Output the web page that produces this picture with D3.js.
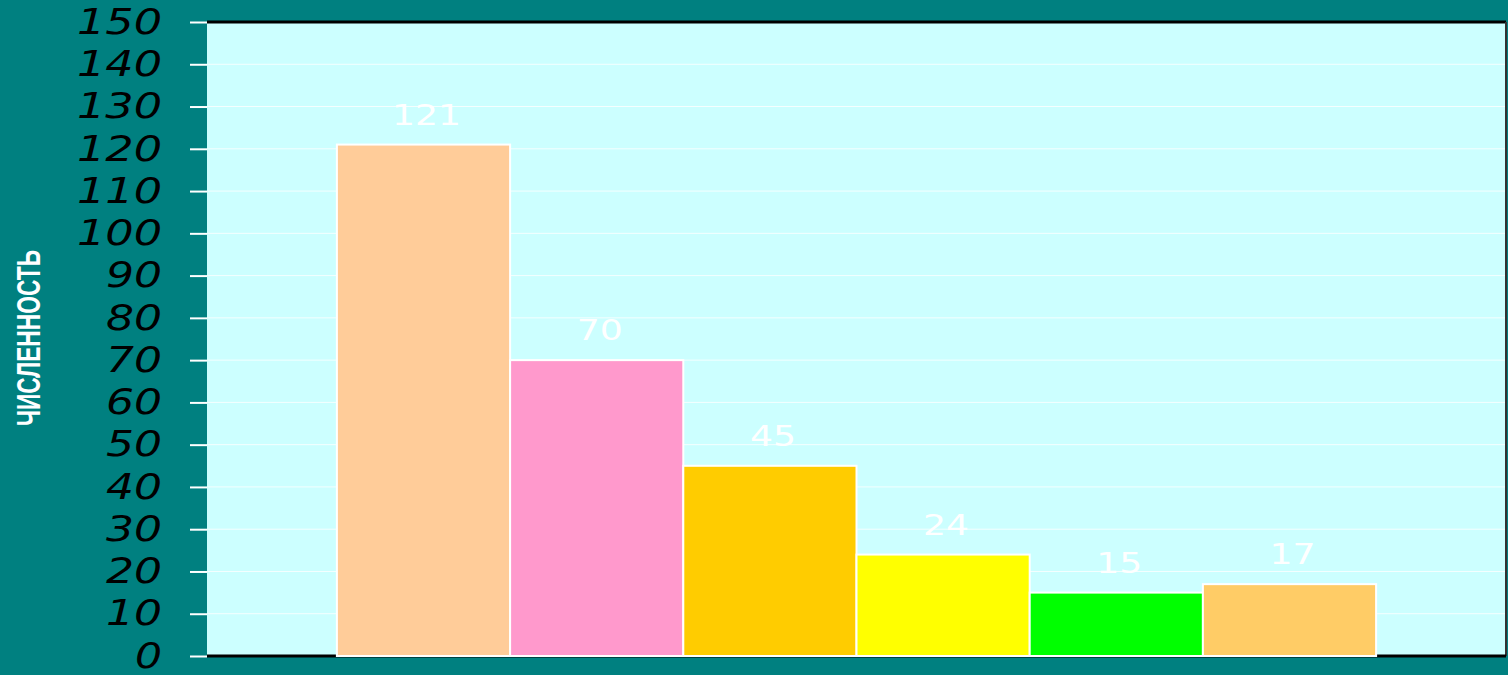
<!DOCTYPE html>
<html lang="ru">
<head>
  <meta charset="UTF-8" />
  <title>Численность</title>
  <style>
    body { margin: 0; background: #008080; }
    svg { display: block; }
    .grid line { stroke: #ffffff; stroke-width: 1px; opacity: 0.8; }
    .yaxis path { display: none; }
    .yaxis line { stroke: #ffffff; stroke-width: 2px; }
    .yaxis text {
      fill: #000;
      font-family: "DejaVu Sans", sans-serif;
      font-style: oblique;
      font-size: 35px;
    }
    .bar { stroke: #ffffff; stroke-width: 2px; }
    .bar-label {
      fill: #ffffff;
      font-family: "DejaVu Sans", sans-serif;
      font-size: 28px;
    }
    .y-title {
      fill: #ffffff;
      font-family: "Liberation Sans Narrow", "Liberation Sans", sans-serif;
      font-weight: bold;
      font-size: 33px;
    }
  </style>
</head>
<body>
  <script src="https://cdn.jsdelivr.net/npm/d3@7/dist/d3.min.js"></script>
  <script>
    var w = 1508;
    var h = 675;
    var margin = { top: 22, right: 2, bottom: 19, left: 207 };

    // data
    var categories = ["1", "2", "3", "4", "5", "6"];
    var values = [121, 70, 45, 24, 15, 17];
    var barColors = ["#ffcc99", "#ff99cc", "#ffcc00", "#ffff00", "#00ff00", "#ffcc66"];
    var yTicks = [0, 10, 20, 30, 40, 50, 60, 70, 80, 90, 100, 110, 120, 130, 140, 150];
    var yTitle = "ЧИСЛЕННОСТЬ";

    var data = categories.map(function(c, i) {
      return { cat: c, value: values[i], color: barColors[i] };
    });

    var innerW = w - margin.left - margin.right;
    var innerH = h - margin.top - margin.bottom;

    var svg = d3.select("body").append("svg")
      .attr("width", w)
      .attr("height", h);

    var xScale = d3.scaleBand()
      .domain(categories)
      .range([0, innerW])
      .paddingInner(0)
      .paddingOuter(0.75);

    var yScale = d3.scaleLinear()
      .domain([0, 150])
      .range([innerH, 0]);

    var g = svg.append("g")
      .attr("transform", "translate(" + margin.left + "," + margin.top + ")");

    // plot background
    g.append("rect")
      .attr("x", 0)
      .attr("y", 0)
      .attr("width", innerW)
      .attr("height", innerH)
      .attr("fill", "#ccffff");

    // gridlines
    g.append("g")
      .attr("class", "grid")
      .selectAll("line")
      .data(yTicks.slice(1, -1))
      .enter()
      .append("line")
      .attr("x1", 0)
      .attr("x2", innerW)
      .attr("y1", function(d) { return yScale(d); })
      .attr("y2", function(d) { return yScale(d); });

    // frame: top, right, bottom
    g.append("line")
      .attr("x1", 0).attr("x2", innerW)
      .attr("y1", 0).attr("y2", 0)
      .attr("stroke", "#000").attr("stroke-width", 3);
    g.append("line")
      .attr("x1", innerW).attr("x2", innerW)
      .attr("y1", 0).attr("y2", innerH)
      .attr("stroke", "#333").attr("stroke-width", 2);
    g.append("line")
      .attr("x1", 0).attr("x2", innerW)
      .attr("y1", innerH).attr("y2", innerH)
      .attr("stroke", "#000").attr("stroke-width", 3);

    var yAxis = d3.axisLeft(yScale)
      .tickValues(yTicks)
      .tickSize(17)
      .tickPadding(28);

    g.append("g")
      .attr("class", "yaxis")
      .call(yAxis)
      .selectAll("text")
      .attr("textLength", function(d) { return String(d).length * 29 - 2; })
      .attr("lengthAdjust", "spacingAndGlyphs");

    g.selectAll(".bar")
      .data(data)
      .enter()
      .append("rect")
      .attr("class", "bar")
      .attr("x", function(d) { return xScale(d.cat); })
      .attr("y", function(d) { return yScale(d.value); })
      .attr("width", xScale.bandwidth())
      .attr("height", function(d) { return innerH - yScale(d.value); })
      .attr("fill", function(d) { return d.color; });

    g.selectAll(".bar-label")
      .data(data)
      .enter()
      .append("text")
      .attr("class", "bar-label")
      .attr("text-anchor", "middle")
      .attr("x", function(d) { return xScale(d.cat) + xScale.bandwidth() / 2 + 3; })
      .attr("y", function(d) { return yScale(d.value) - 20; })
      .attr("textLength", function(d) { return String(d.value).length * 23; })
      .attr("lengthAdjust", "spacingAndGlyphs")
      .text(function(d) { return d.value; });

    svg.append("text")
      .attr("class", "y-title")
      .attr("text-anchor", "middle")
      .attr("transform", "translate(40,338) rotate(-90)")
      .attr("textLength", 176)
      .attr("lengthAdjust", "spacingAndGlyphs")
      .text(yTitle);
  </script>
</body>
</html>
